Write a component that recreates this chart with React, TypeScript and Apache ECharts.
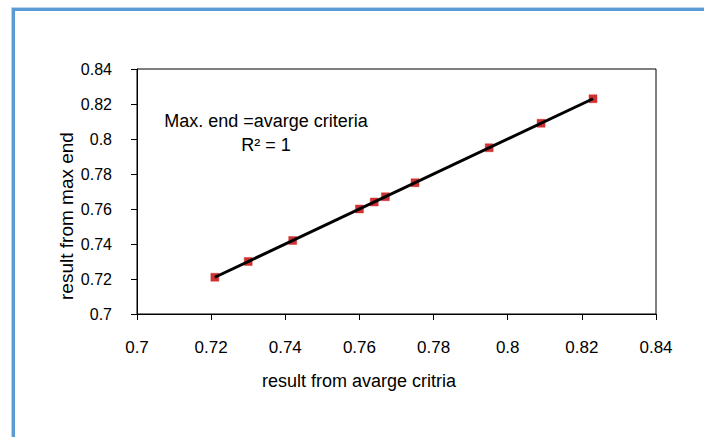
import React, { useEffect, useRef } from "react";
import * as echarts from "echarts";

const avgCriteria = [0.721, 0.73, 0.742, 0.76, 0.764, 0.767, 0.775, 0.795, 0.809, 0.823];
const maxEnd = [0.721, 0.73, 0.742, 0.76, 0.764, 0.767, 0.775, 0.795, 0.809, 0.823];
const xTitle = "result from avarge critria";
const yTitle = "result from max end";
const noteLine1 = "Max. end =avarge criteria";
const noteLine2 = "R² = 1";

const FONT = "'Liberation Sans', Arial, sans-serif";

export default function App() {
  const ref = useRef<HTMLDivElement>(null);
  useEffect(() => {
    if (!ref.current) return;
    const chart = echarts.init(ref.current, null, { renderer: "svg" });
    const n = avgCriteria.length;
    const mx = avgCriteria.reduce((a, b) => a + b, 0) / n;
    const my = maxEnd.reduce((a, b) => a + b, 0) / n;
    let sxy = 0, sxx = 0;
    for (let i = 0; i < n; i++) {
      sxy += (avgCriteria[i] - mx) * (maxEnd[i] - my);
      sxx += (avgCriteria[i] - mx) ** 2;
    }
    const slope = sxy / sxx;
    const icpt = my - slope * mx;
    const x0 = Math.min(...avgCriteria);
    const x1 = Math.max(...avgCriteria);
    const trend = [
      [x0, icpt + slope * x0],
      [x1, icpt + slope * x1],
    ];
    const points = avgCriteria.map((x, i) => [x, maxEnd[i]]);

    chart.setOption({
      animation: false,
      backgroundColor: "#ffffff",
      grid: {
        left: 137,
        top: 69,
        right: 48,
        bottom: 123,
        show: true,
        borderColor: "#000",
        borderWidth: 1,
        backgroundColor: "transparent",
      },
      xAxis: {
        type: "value",
        min: 0.7,
        max: 0.84,
        interval: 0.02,
        axisLine: { show: true, lineStyle: { color: "#000", width: 1 } },
        axisTick: { show: true, inside: false, length: 6, lineStyle: { color: "#000" } },
        axisLabel: { color: "#000", fontSize: 17, fontFamily: FONT, margin: 25 },
        splitLine: { show: false },
      },
      yAxis: {
        type: "value",
        min: 0.7,
        max: 0.84,
        interval: 0.02,
        axisLine: { show: true, lineStyle: { color: "#000", width: 1 } },
        axisTick: { show: true, inside: false, length: 6, lineStyle: { color: "#000" } },
        axisLabel: { color: "#000", fontSize: 16, fontFamily: FONT, margin: 25 },
        splitLine: { show: false },
      },
      graphic: [
        {
          type: "rect",
          shape: { x: 11.5, y: 7.5, width: 900, height: 700 },
          style: { fill: "none", stroke: "#bcd3ee", lineWidth: 1 },
          silent: true,
        },
        {
          type: "rect",
          shape: { x: 13.5, y: 9.5, width: 900, height: 700 },
          style: { fill: "none", stroke: "#5b9bd5", lineWidth: 3 },
          silent: true,
        },
        {
          type: "text",
          x: 266,
          y: 121,
          style: {
            text: noteLine1,
            fill: "#000",
            font: `18px ${FONT}`,
            textAlign: "center",
            textVerticalAlign: "middle",
          },
        },
        {
          type: "text",
          x: 266,
          y: 145,
          style: {
            text: noteLine2,
            fill: "#000",
            font: `18px ${FONT}`,
            textAlign: "center",
            textVerticalAlign: "middle",
          },
        },
        {
          type: "text",
          x: 359,
          y: 381,
          style: {
            text: xTitle,
            fill: "#000",
            font: `18px ${FONT}`,
            textAlign: "center",
            textVerticalAlign: "middle",
          },
        },
        {
          type: "text",
          x: 66,
          y: 216,
          rotation: Math.PI / 2,
          style: {
            text: yTitle,
            fill: "#000",
            font: `19px ${FONT}`,
            textAlign: "center",
            textVerticalAlign: "middle",
          },
        },
      ],
      series: [
        {
          type: "scatter",
          data: points,
          symbol: "rect",
          symbolSize: 8,
          itemStyle: { color: "#c00000", borderColor: "#d82020", borderWidth: 0.5 },
          z: 2,
        },
        {
          type: "line",
          data: trend,
          showSymbol: false,
          symbol: "none",
          lineStyle: { color: "#000", width: 3 },
          z: 3,
        },
      ],
    });
    return () => chart.dispose();
  }, []);
  return (
    <div
      ref={ref}
      style={{ position: "fixed", left: 0, top: 0, width: 704, height: 437 }}
    />
  );
}
